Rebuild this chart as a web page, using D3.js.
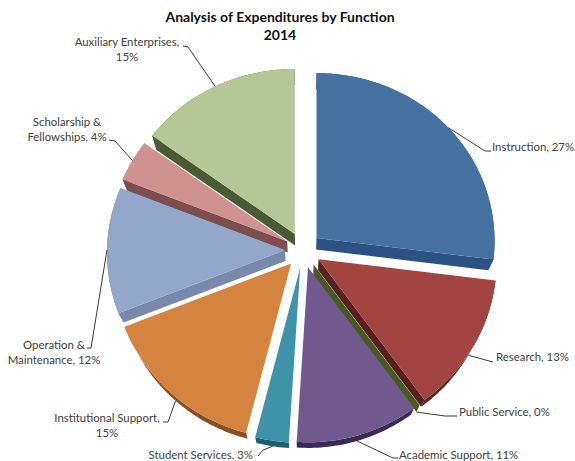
<!DOCTYPE html>
<html>
<head>
<meta charset="utf-8">
<script src="https://cdnjs.cloudflare.com/ajax/libs/d3/7.8.5/d3.min.js"></script>
<style>
  html, body { margin: 0; padding: 0; background: #fff; }
  svg { display: block; }
  text { font-family: Lato, "Open Sans", sans-serif; }
</style>
</head>
<body>
<svg id="chart" width="575" height="461"></svg>
<script>
// Expenditure shares, in percent, clockwise from twelve o'clock
const categories = ["Instruction", "Research", "Public Service", "Academic Support", "Student Services",
                    "Institutional Support", "Operation & Maintenance", "Scholarship & Fellowships", "Auxiliary Enterprises"];
const shares = [27, 13, 0, 11, 3, 15, 12, 4, 15];
const titleLines = ["Analysis of Expenditures by Function", "2014"];

// Slice faces and their darker extruded sides
const topColors  = ["#44719f", "#a24541", "#7f9a48", "#71588f", "#3f93a9", "#d58440", "#93a7cb", "#cf9291", "#b5c794"];
const sideColors = ["#2b5282", "#5a1f20", "#465a22", "#3a2a58", "#1d5f70", "#8a4f1f", "#7889ab", "#7d4e4d", "#4a5b34"];

// Label placement: text lines with anchor, and the elbows of each leader line
const labelLayout = [
  { lines: ["Instruction, 27%"], x: 492, y: 151, anchor: "start", elbows: [[485, 151], [491, 151]] },
  { lines: ["Research, 13%"], x: 496, y: 361, anchor: "start", elbows: [[493, 362]] },
  { lines: ["Public Service, 0%"], x: 459, y: 416, anchor: "start", elbows: [[445, 416], [457, 416]] },
  { lines: ["Academic Support, 11%"], x: 399, y: 459, anchor: "start", elbows: [[393, 458], [398, 458]] },
  { lines: ["Student Services, 3%"], x: 253, y: 459, anchor: "end", elbows: [[263, 450], [258, 456]] },
  { lines: ["Institutional Support,", "15%"], x: 107, y: 422, anchor: "middle", elbows: [[168, 422], [163, 422]] },
  { lines: ["Operation &", "Maintenance, 12%"], x: 54, y: 349, anchor: "middle", elbows: [[91, 348], [87, 348]] },
  { lines: ["Scholarship &", "Fellowships, 4%"], x: 67, y: 126, anchor: "middle", elbows: [[115, 141], [109, 140]] },
  { lines: ["Auxiliary Enterprises,", "15%"], x: 127, y: 46, anchor: "middle", elbows: [[188, 47], [183, 46]] }
];

const svg = d3.select("#chart");

// Tilted-pie geometry: the near side of the disc reads slightly larger than the far side
const cx = 303, cy = 250;
const radiusX = 178, radiusY = 170, nearBulgeX = 3, nearBulgeY = 5;
const explode = 18;
const depth = 11, depthScale = 0.972;
const sideFaceThreshold = 0.3;

const pie = d3.pie().value(d => d).sort(null).startAngle(0).endAngle(2 * Math.PI);

// Flat pie coordinates to screen; each slice is pushed out along its own mid angle.
function topPoint(angle, frac, mid) {
  const rx = radiusX - nearBulgeX * Math.cos(angle);
  const ry = radiusY - nearBulgeY * Math.cos(angle);
  const ex = explode * Math.sin(mid), ey = -explode * Math.cos(mid);
  return [cx + ex + frac * rx * Math.sin(angle),
          cy + ey - frac * ry * Math.cos(angle)];
}
// The underside sits lower and slightly smaller, as seen in perspective.
function lowerPoint(angle, frac, mid) {
  const p = topPoint(angle, frac, mid);
  return [cx + depthScale * (p[0] - cx), cy + depth + depthScale * (p[1] - cy)];
}

const slices = pie(shares).map((d, i) => {
  const mid = (d.startAngle + d.endAngle) / 2;
  const n = Math.max(2, Math.ceil((d.endAngle - d.startAngle) / 0.02));
  const angles = d3.range(n + 1).map(k => d.startAngle + (d.endAngle - d.startAngle) * k / n);
  return { i, mid, angles, start: d.startAngle, end: d.endAngle };
});

const path = d3.line();

function facePath(s) {
  return path([topPoint(s.start, 0, s.mid), ...s.angles.map(a => topPoint(a, 1, s.mid))]) + "Z";
}
function radialWall(s, a) {
  return path([topPoint(a, 0, s.mid), topPoint(a, 1, s.mid), lowerPoint(a, 1, s.mid), lowerPoint(a, 0, s.mid)]) + "Z";
}
function rimWall(s) {
  return path([...s.angles.map(a => topPoint(a, 1, s.mid)),
               ...s.angles.slice().reverse().map(a => lowerPoint(a, 1, s.mid))]) + "Z";
}

// Sides go down first, rear slices before front ones, then all the faces on top.
// A cut face shows only when it turns clearly toward the viewer.
const order = slices.slice().sort((a, b) => Math.cos(b.mid) - Math.cos(a.mid));
const sides = svg.append("g");
order.forEach(s => {
  const walls = [rimWall(s)];
  if (-Math.sin(s.start) > sideFaceThreshold) walls.push(radialWall(s, s.start));
  if (Math.sin(s.end) > sideFaceThreshold) walls.push(radialWall(s, s.end));
  walls.forEach(d => sides.append("path").attr("d", d).attr("fill", sideColors[s.i]));
});

svg.append("g").selectAll("path")
  .data(order.filter(s => s.end > s.start))
  .join("path")
  .attr("d", facePath)
  .attr("fill", s => topColors[s.i]);

// Leader lines start on the rim at each slice's mid angle.
const leaders = svg.append("g").attr("fill", "none").attr("stroke", "#3a3a3a").attr("stroke-width", 1);
slices.forEach((s, i) => {
  const front = Math.cos(s.mid) < -0.05;
  const rim = (front ? lowerPoint : topPoint)(s.mid, 1, s.mid);
  leaders.append("path").attr("d", path([rim, ...labelLayout[i].elbows]));
});

// Labels
const labels = svg.append("g").attr("font-size", 11.4).attr("fill", "#404040");
labelLayout.forEach(l => {
  const t = labels.append("text").attr("text-anchor", l.anchor);
  l.lines.forEach((line, k) => {
    t.append("tspan").attr("x", l.x).attr("y", l.y + k * 15).text(line);
  });
});

// Title
svg.append("g").selectAll("text")
  .data(titleLines)
  .join("text")
  .attr("x", 280)
  .attr("y", (d, i) => 22 + i * 18)
  .attr("text-anchor", "middle")
  .attr("font-size", 14)
  .attr("font-weight", 700)
  .attr("fill", "#111")
  .text(d => d);
</script>
</body>
</html>
